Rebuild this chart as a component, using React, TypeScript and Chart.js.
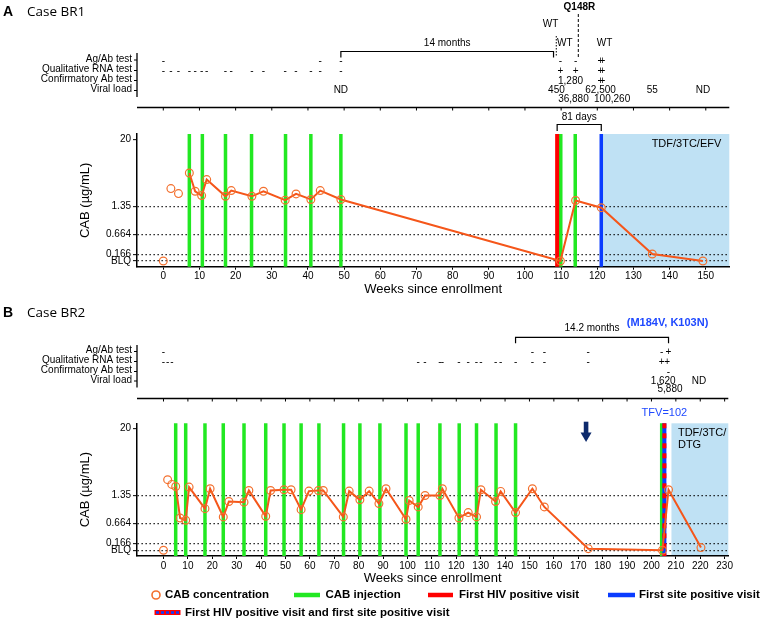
import React, { useEffect, useRef } from 'react';
import { Chart, LinearScale, registerables } from 'chart.js';

const SANS = '"Liberation Sans", Arial, Helvetica, sans-serif';
const CASE_FONT = '"Open Sans", "Noto Sans", sans-serif';

// ---------------- shared y axis ----------------
const BLQ = 0.025;
const Y_TICK_VALUES = [BLQ, 0.166, 0.664, 1.35, 20];
const Y_TICK_LABELS = ['BLQ', '0.166', '0.664', '1.35', '20'];
const Y_TICK_FRACTIONS = [0.043, 0.093, 0.245, 0.456, 0.961];

const ROW_LABELS = ['Ag/Ab test', 'Qualitative RNA test', 'Confirmatory Ab test', 'Viral load'];

// ---------------- Panel A (Case BR1) ----------------
const A_X_TICKS = [0, 10, 20, 30, 40, 50, 60, 70, 80, 90, 100, 110, 120, 130, 140, 150];
const A_X_MIN = -7.27;
const A_X_MAX = 156.5;
const A_CAB_WEEKS = [0, 2.1, 4.2, 7.2, 8.8, 10.6, 12.0, 17.2, 18.8, 24.5, 27.7, 33.7, 36.7, 40.8, 43.4, 49.1, 109.8, 114.0, 121.1, 135.2, 149.2];
const A_CAB_VALUES = [BLQ, 2.74, 2.24, 5.13, 2.46, 2.07, 3.94, 2.01, 2.53, 2.01, 2.46, 1.72, 2.21, 1.77, 2.53, 1.77, BLQ, 1.7, 1.3, 0.17, BLQ];
const A_LINE_FROM = 3;
const A_INJECTION_WEEKS = [7.2, 10.8, 17.2, 24.4, 33.8, 40.8, 49.1, 109.9, 113.9];
const A_HIV_POSITIVE_WEEK = 108.9;
const A_SITE_POSITIVE_WEEK = 121.1;
const A_ART_START_WEEK = 121.5;
const A_ART_LABEL = 'TDF/3TC/EFV';
const A_AGAB_NEG = [0, 43.4, 49.1, 109.8, 114.0];
const A_AGAB_POS = [120.85, 121.4];
const A_RNA_NEG = [0, 2.1, 4.2, 7.2, 8.8, 10.6, 12.0, 17.2, 18.8, 24.5, 27.7, 33.7, 36.7, 40.8, 43.4, 49.1];
const A_RNA_POS = [109.8, 114.0, 120.85, 121.4];
const A_CONF_POS = [120.85, 121.4];
const A_VL_WEEKS = [49.1, 108.7, 112.6, 113.4, 120.9, 124.1, 135.2, 149.2];
const A_VL_LABELS = ['ND', '450', '1,280', '36,880', '62,500', '100,260', '55', 'ND'];
const A_VL_LEVELS = [0, 0, -1, 1, 0, 1, 0, 0];
const A_GAP_FROM = 49.1;
const A_GAP_TO = 107.9;
const A_GAP_LABEL = '14 months';
const A_WT_WEEKS = [107.1, 111.0, 122.0];
const A_WT_LEVELS = [0, 1, 1];
const A_Q148R_WEEK = 114.75;
const A_WT_SPLIT_WEEK = 108.66;
const A_DAYS_LABEL = '81 days';

// ---------------- Panel B (Case BR2) ----------------
const B_X_TICKS = [0, 10, 20, 30, 40, 50, 60, 70, 80, 90, 100, 110, 120, 130, 140, 150, 160, 170, 180, 190, 200, 210, 220, 230];
const B_X_MIN = -10.86;
const B_X_MAX = 231.5;
const B_CAB_WEEKS = [0, 1.7, 3.4, 5.0, 6.8, 9.1, 10.5, 17.0, 19.1, 24.5, 26.8, 33.0, 35.0, 41.9, 43.9, 49.4, 52.3, 56.4, 59.6, 63.5, 65.5, 73.7, 76.1, 80.5, 84.3, 88.3, 91.2, 99.4, 100.7, 104.4, 107.2, 113.3, 114.3, 121.1, 124.9, 128.3, 130.1, 136.1, 138.2, 144.3, 151.2, 156.1, 174.1, 204.5, 207.0, 220.3];
const B_CAB_VALUES = [BLQ, 2.55, 2.11, 1.94, 0.764, 0.721, 1.89, 0.967, 1.77, 0.784, 1.16, 1.14, 1.65, 0.797, 1.65, 1.7, 1.7, 0.943, 1.61, 1.65, 1.65, 0.784, 1.61, 1.21, 1.61, 1.1, 1.77, 0.74, 1.19, 1.01, 1.35, 1.35, 1.77, 0.764, 0.875, 0.784, 1.7, 1.16, 1.59, 0.875, 1.77, 1.01, 0.04, BLQ, 1.7, 0.054];
const B_LINE_FROM = 3;
const B_INJECTION_WEEKS = [5.0, 9.1, 17.0, 24.5, 33.0, 41.9, 49.4, 56.4, 63.7, 73.8, 80.5, 88.7, 99.4, 104.4, 113.3, 121.2, 128.3, 136.3, 144.3, 204.2];
const B_BOTH_POSITIVE_WEEK = 205.3;
const B_ART_START_WEEK = 208.2;
const B_ART_LABEL = ['TDF/3TC/', 'DTG'];
const B_ARROW_WEEK = 173.2;
const B_TFV_LABEL = 'TFV=102';
const B_AGAB_NEG = [0, 151.2, 156.1, 174.1, 204.2];
const B_AGAB_POS = [207.0];
const B_RNA_NEG = [0, 1.7, 3.4, 104.4, 107.2, 113.3, 114.3, 121.1, 124.9, 128.3, 130.1, 136.1, 138.2, 144.3, 151.2, 156.1, 174.1];
const B_RNA_POS = [204.2, 206.4];
const B_CONF_NEG = [207.0];
const B_VL_WEEKS = [204.8, 207.6, 219.5];
const B_VL_LABELS = ['1,620', '5,880', 'ND'];
const B_VL_LEVELS = [0, 1, 0];
const B_GAP_FROM = 144.3;
const B_GAP_TO = 207.0;
const B_GAP_LABEL = '14.2 months';
const B_MUTATIONS = '(M184V, K103N)';

// ---------------- legend ----------------
const LEGEND_ROW1 = ['CAB concentration', 'CAB injection', 'First HIV positive visit', 'First site positive visit'];
const LEGEND_ROW2 = 'First HIV positive visit and first site positive visit';

// ---------------- colours ----------------
const GREEN = '#22e822';
const RED = '#ff0000';
const BLUE = '#0a3cff';
const SHADE = '#bfe1f4';
const LINE_ORANGE = '#f5561a';
const POINT_ORANGE = '#f3702e';
const NAVY = '#0d2a6c';
const LABEL_BLUE = '#1f49ff';

class SegmentedLogScale extends LinearScale {
  static id = 'segmentedLog';
  static defaults = {};
  determineDataLimits() {
    (this as any).min = Y_TICK_VALUES[0];
    (this as any).max = Y_TICK_VALUES[Y_TICK_VALUES.length - 1];
  }
  buildTicks() {
    return Y_TICK_VALUES.map((value) => ({ value }));
  }
  decimalFor(v: number) {
    const b = Y_TICK_VALUES, f = Y_TICK_FRACTIONS;
    let i = 0;
    while (i < b.length - 2 && v > b[i + 1]) i++;
    const l0 = Math.log10(b[i]), l1 = Math.log10(b[i + 1]);
    return f[i] + ((Math.log10(v) - l0) / (l1 - l0)) * (f[i + 1] - f[i]);
  }
  getPixelForValue(v: number) {
    if (v == null || isNaN(v)) return NaN;
    return (this as any).getPixelForDecimal(this.decimalFor(v));
  }
  getValueForPixel(p: number) {
    const d = (this as any).getDecimalForPixel(p);
    const b = Y_TICK_VALUES, f = Y_TICK_FRACTIONS;
    let i = 0;
    while (i < f.length - 2 && d > f[i + 1]) i++;
    const l0 = Math.log10(b[i]), l1 = Math.log10(b[i + 1]);
    return Math.pow(10, l0 + ((d - f[i]) / (f[i + 1] - f[i])) * (l1 - l0));
  }
}

Chart.register(...registerables, SegmentedLogScale as any);
Chart.defaults.font.family = SANS;
Chart.defaults.color = '#000';

// ---------------- drawing helpers ----------------
function text(ctx: CanvasRenderingContext2D, s: string, x: number, y: number, size: number, align: CanvasTextAlign = 'center', o: any = {}) {
  ctx.save();
  ctx.font = `${o.bold ? 'bold ' : ''}${size}px ${o.family || SANS}`;
  ctx.fillStyle = o.color || '#000';
  ctx.textAlign = align;
  ctx.textBaseline = 'middle';
  if (o.maxWidth) ctx.fillText(s, x, y, o.maxWidth);
  else ctx.fillText(s, x, y);
  ctx.restore();
}

function seg(ctx: CanvasRenderingContext2D, x1: number, y1: number, x2: number, y2: number, color: string, width: number, dash: number[] = []) {
  ctx.save();
  ctx.strokeStyle = color;
  ctx.lineWidth = width;
  ctx.setLineDash(dash);
  ctx.beginPath();
  ctx.moveTo(x1, y1);
  ctx.lineTo(x2, y2);
  ctx.stroke();
  ctx.restore();
}

function bracket(ctx: CanvasRenderingContext2D, x0: number, x1: number, y: number, drop: number) {
  ctx.save();
  ctx.strokeStyle = '#000';
  ctx.lineWidth = 1.2;
  ctx.beginPath();
  ctx.moveTo(x0, y + drop);
  ctx.lineTo(x0, y);
  ctx.lineTo(x1, y);
  ctx.lineTo(x1, y + drop);
  ctx.stroke();
  ctx.restore();
}

function headerAxes(chart: any, rowY: number[], vTop: number, vBottom: number, hY: number, ticks: number[]) {
  const ctx = chart.ctx, xs = chart.scales.x, ca = chart.chartArea;
  seg(ctx, ca.left, vTop, ca.left, vBottom, '#000', 1.3);
  rowY.forEach((y, i) => {
    seg(ctx, ca.left - 3, y, ca.left, y, '#000', 1);
    text(ctx, ROW_LABELS[i], ca.left - 5, y - 1, 10, 'right');
  });
  seg(ctx, ca.left, hY, ca.right, hY, '#000', 1.5);
  ticks.forEach((t) => {
    const px = xs.getPixelForValue(t);
    seg(ctx, px, hY, px, hY + 3, '#000', 1);
  });
}

function marks(chart: any, weeks: number[], symbol: string, y: number) {
  const xs = chart.scales.x;
  weeks.forEach((w) => text(chart.ctx, symbol, xs.getPixelForValue(w), y + 1, 10));
}

function vline(chart: any, week: number, color: string, width: number, dash: number[] = []) {
  const x = chart.scales.x.getPixelForValue(week);
  seg(chart.ctx, x, chart.chartArea.top, x, chart.chartArea.bottom, color, width, dash);
}

function shade(chart: any, fromWeek: number) {
  const { ctx, chartArea: ca } = chart;
  const x0 = chart.scales.x.getPixelForValue(fromWeek);
  ctx.save();
  ctx.fillStyle = SHADE;
  ctx.fillRect(x0, ca.top, ca.right - x0, ca.bottom - ca.top);
  ctx.restore();
}

// ---------------- plugins ----------------
const A_ROW_Y = [60, 70.5, 80.5, 90.5];
const B_ROW_Y = [55.5, 65.5, 75.5, 85];

const decorA = {
  id: 'decorA',
  beforeDraw(chart: any) {
    shade(chart, A_ART_START_WEEK);
  },
  beforeDatasetsDraw(chart: any) {
    A_INJECTION_WEEKS.forEach((w) => vline(chart, w, GREEN, 3.5));
    vline(chart, A_HIV_POSITIVE_WEEK, RED, 4);
    vline(chart, A_SITE_POSITIVE_WEEK, BLUE, 3.5);
  },
  afterDraw(chart: any) {
    const ctx = chart.ctx, xs = chart.scales.x, ca = chart.chartArea;
    const X = (w: number) => xs.getPixelForValue(w);
    text(ctx, 'A', 3, 12, 14, 'left', { bold: true });
    text(ctx, 'Case BR1', 27, 12, 13.5, 'left', { family: CASE_FONT });
    headerAxes(chart, A_ROW_Y, 53, 97, 107.5, A_X_TICKS);
    marks(chart, A_AGAB_NEG, '-', A_ROW_Y[0]);
    marks(chart, A_AGAB_POS, '+', A_ROW_Y[0]);
    marks(chart, A_RNA_NEG, '-', A_ROW_Y[1]);
    marks(chart, A_RNA_POS, '+', A_ROW_Y[1]);
    marks(chart, A_CONF_POS, '+', A_ROW_Y[2]);
    A_VL_WEEKS.forEach((w, i) => text(ctx, A_VL_LABELS[i], X(w), A_ROW_Y[3] + A_VL_LEVELS[i] * 9, 10));
    bracket(ctx, X(A_GAP_FROM), X(A_GAP_TO), 51.5, 6);
    text(ctx, A_GAP_LABEL, (X(A_GAP_FROM) + X(A_GAP_TO)) / 2, 43, 10);
    seg(ctx, X(A_WT_SPLIT_WEEK), 36, X(A_WT_SPLIT_WEEK), 57, '#000', 1, [1.5, 1.5]);
    seg(ctx, X(A_Q148R_WEEK), 14, X(A_Q148R_WEEK), 57, '#000', 1, [3, 2]);
    text(ctx, 'Q148R', X(A_Q148R_WEEK + 0.3), 7, 10, 'center', { bold: true });
    A_WT_WEEKS.forEach((w, i) => text(ctx, 'WT', X(w), 24.5 + A_WT_LEVELS[i] * 18.5, 10));
    bracket(ctx, X(A_HIV_POSITIVE_WEEK), X(A_SITE_POSITIVE_WEEK), 124.5, 6.5);
    text(ctx, A_DAYS_LABEL, (X(A_HIV_POSITIVE_WEEK) + X(A_SITE_POSITIVE_WEEK)) / 2, 117, 10);
    text(ctx, A_ART_LABEL, ca.right - 8, 144, 11, 'right');
  },
};

const decorB = {
  id: 'decorB',
  beforeDraw(chart: any) {
    shade(chart, B_ART_START_WEEK);
  },
  beforeDatasetsDraw(chart: any) {
    B_INJECTION_WEEKS.forEach((w) => vline(chart, w, GREEN, 3.5));
    vline(chart, B_BOTH_POSITIVE_WEEK, BLUE, 4);
    vline(chart, B_BOTH_POSITIVE_WEEK, RED, 4, [5, 5]);
  },
  afterDraw(chart: any) {
    const ctx = chart.ctx, xs = chart.scales.x;
    const X = (w: number) => xs.getPixelForValue(w);
    text(ctx, 'B', 3, 17, 14, 'left', { bold: true });
    text(ctx, 'Case BR2', 27, 17, 13.5, 'left', { family: CASE_FONT });
    headerAxes(chart, B_ROW_Y, 49, 91.5, 102.5, B_X_TICKS);
    marks(chart, B_AGAB_NEG, '-', B_ROW_Y[0]);
    marks(chart, B_AGAB_POS, '+', B_ROW_Y[0]);
    marks(chart, B_RNA_NEG, '-', B_ROW_Y[1]);
    marks(chart, B_RNA_POS, '+', B_ROW_Y[1]);
    marks(chart, B_CONF_NEG, '-', B_ROW_Y[2]);
    B_VL_WEEKS.forEach((w, i) => text(ctx, B_VL_LABELS[i], X(w), B_ROW_Y[3] + B_VL_LEVELS[i] * 8.5, 10));
    bracket(ctx, X(B_GAP_FROM), X(B_GAP_TO), 41.3, 6);
    text(ctx, B_GAP_LABEL, (X(B_GAP_FROM) + X(B_GAP_TO)) / 2, 32.3, 10);
    text(ctx, B_MUTATIONS, X(206.6), 27.3, 11, 'center', { bold: true, color: LABEL_BLUE });
    text(ctx, B_TFV_LABEL, X(B_BOTH_POSITIVE_WEEK), 117.3, 11, 'center', { color: LABEL_BLUE });
    text(ctx, B_ART_LABEL[0], X(B_ART_START_WEEK) + 6.5, 137.3, 11, 'left');
    text(ctx, B_ART_LABEL[1], X(B_ART_START_WEEK) + 6.5, 149, 11, 'left');
    // arrow
    const ax = X(B_ARROW_WEEK);
    ctx.save();
    ctx.fillStyle = NAVY;
    ctx.fillRect(ax - 2.3, 125.7, 4.6, 12);
    ctx.beginPath();
    ctx.moveTo(ax - 5.5, 136.5);
    ctx.lineTo(ax + 5.5, 136.5);
    ctx.lineTo(ax, 146);
    ctx.closePath();
    ctx.fill();
    ctx.restore();
    // legend
    const ly = 299, ly2 = 316.5;
    ctx.save();
    ctx.strokeStyle = POINT_ORANGE;
    ctx.lineWidth = 1.6;
    ctx.beginPath();
    ctx.arc(156, ly, 4, 0, Math.PI * 2);
    ctx.stroke();
    ctx.restore();
    const lf = 11.5;
    text(ctx, LEGEND_ROW1[0], 165, ly, lf, 'left', { bold: true, maxWidth: 107 });
    seg(ctx, 294, ly, 320, ly, GREEN, 4.5);
    text(ctx, LEGEND_ROW1[1], 325.5, ly, lf, 'left', { bold: true, maxWidth: 77 });
    seg(ctx, 428, ly, 453, ly, RED, 4.5);
    text(ctx, LEGEND_ROW1[2], 459, ly, lf, 'left', { bold: true, maxWidth: 123 });
    seg(ctx, 608, ly, 635, ly, BLUE, 4.5);
    text(ctx, LEGEND_ROW1[3], 639, ly, lf, 'left', { bold: true, maxWidth: 121 });
    seg(ctx, 154.5, ly2, 180.5, ly2, RED, 5);
    seg(ctx, 156, ly2, 179, ly2, BLUE, 2.5, [3, 2]);
    text(ctx, LEGEND_ROW2, 185, ly2, lf, 'left', { bold: true, maxWidth: 271 });
  },
};

// ---------------- chart config ----------------
function buildConfig(weeks: number[], values: number[], lineFrom: number, xMin: number, xMax: number, xTicks: number[], padding: any, plugin: any) {
  return {
    type: 'line' as const,
    data: {
      datasets: [
        {
          data: weeks.map((w, i) => ({ x: w, y: values[i] })),
          borderColor: LINE_ORANGE,
          borderWidth: 2,
          pointRadius: 3.9,
          pointBorderWidth: 1.2,
          pointBorderColor: POINT_ORANGE,
          pointBackgroundColor: 'rgba(0,0,0,0)',
          tension: 0,
          fill: false,
          segment: {
            borderColor: (c: any) => (c.p0DataIndex < lineFrom ? 'rgba(0,0,0,0)' : LINE_ORANGE),
          },
        },
      ],
    },
    options: {
      responsive: false,
      animation: false as const,
      layout: { padding },
      plugins: { legend: { display: false }, tooltip: { enabled: false } },
      scales: {
        x: {
          type: 'linear' as const,
          min: xMin,
          max: xMax,
          afterBuildTicks: (s: any) => {
            s.ticks = xTicks.map((v) => ({ value: v }));
          },
          afterFit: (s: any) => {
            s.height = 29.3;
          },
          grid: { drawOnChartArea: false, drawTicks: true, tickLength: 3, tickColor: '#000', color: '#000' },
          border: { color: '#000', width: 1.5 },
          ticks: { color: '#000', font: { size: 10, family: SANS }, padding: 1, maxRotation: 0, autoSkip: false },
          title: { display: true, text: 'Weeks since enrollment', color: '#000', font: { size: 13, family: SANS, lineHeight: 1 }, padding: 0 },
        },
        y: {
          type: 'segmentedLog',
          afterFit: (s: any) => {
            s.width = 137;
          },
          grid: {
            drawOnChartArea: true,
            color: (c: any) => (c.tick && c.tick.value === 20 ? 'rgba(0,0,0,0)' : '#000'),
            lineWidth: 1.3,
            tickLength: 4,
            tickColor: '#000',
            tickWidth: 1,
          },
          border: { color: '#000', width: 1.5, dash: [1.3, 2.7] },
          ticks: {
            color: '#000',
            autoSkip: false,
            font: { size: 10, family: SANS },
            padding: 2,
            callback: (_v: any, i: number) => Y_TICK_LABELS[i],
          },
          title: { display: true, text: 'CAB (µg/mL)', color: '#000', font: { size: 13, family: SANS }, padding: { top: 77.2, bottom: 0 } },
        },
      },
    },
    plugins: [plugin],
  };
}

export default function App() {
  const refA = useRef<HTMLCanvasElement>(null);
  const refB = useRef<HTMLCanvasElement>(null);
  useEffect(() => {
    const a = new Chart(
      refA.current as HTMLCanvasElement,
      buildConfig(A_CAB_WEEKS, A_CAB_VALUES, A_LINE_FROM, A_X_MIN, A_X_MAX, A_X_TICKS, { top: 134, right: 30.7, bottom: 0, left: 0 }, decorA) as any
    );
    const b = new Chart(
      refB.current as HTMLCanvasElement,
      buildConfig(B_CAB_WEEKS, B_CAB_VALUES, B_LINE_FROM, B_X_MIN, B_X_MAX, B_X_TICKS, { top: 127.3, right: 31.7, bottom: 35.7, left: 0 }, decorB) as any
    );
    return () => {
      a.destroy();
      b.destroy();
    };
  }, []);
  return (
    <div style={{ position: 'absolute', left: 0, top: 0, width: 760, height: 621, background: '#fff', overflow: 'hidden' }}>
      <canvas ref={refA} width={760} height={296} style={{ position: 'absolute', left: 0, top: 0, width: 760, height: 296 }} />
      <canvas ref={refB} width={760} height={325} style={{ position: 'absolute', left: 0, top: 296, width: 760, height: 325 }} />
    </div>
  );
}
